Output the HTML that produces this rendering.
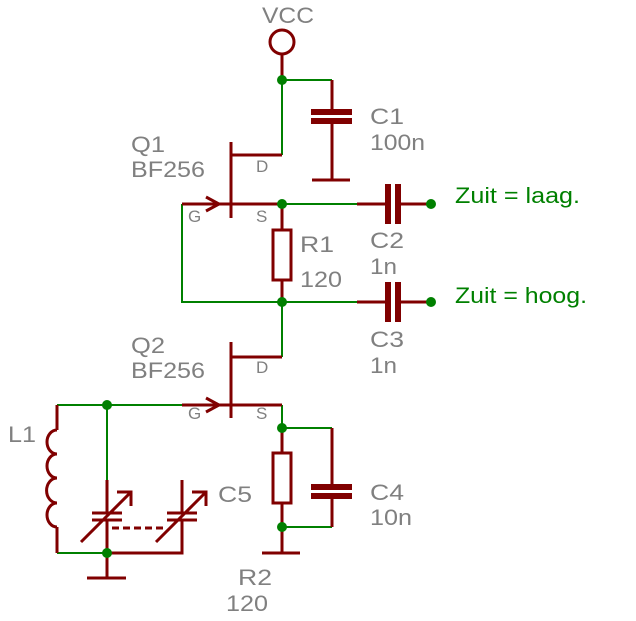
<!DOCTYPE html>
<html><head><style>html,body{margin:0;padding:0;background:#fff}svg{display:block}</style></head><body>
<svg width="636" height="621" viewBox="0 0 636 621" xmlns="http://www.w3.org/2000/svg" font-family="Liberation Sans, sans-serif">
<g stroke="#008000" stroke-width="2" fill="none">
<polyline points="282,80 332,80"/>
<polyline points="282,80 282,155"/>
<polyline points="282,204 357,204"/>
<polyline points="182,204 182,302 357,302"/>
<polyline points="282,302 282,357"/>
<polyline points="57,405 182,405"/>
<polyline points="107,405 107,480"/>
<polyline points="282,405 282,428 332,428"/>
<polyline points="282,527 332,527"/>
<polyline points="57,553 107,553"/>
</g>
<g stroke="#800000" stroke-width="3" fill="none">
<circle cx="282" cy="42" r="12"/>
<line x1="282" y1="54" x2="282" y2="80"/>
<line x1="332" y1="80" x2="332" y2="112"/>
<line x1="332" y1="121" x2="332" y2="180"/>
<line x1="312" y1="180" x2="350" y2="180"/>
<line x1="282" y1="155" x2="232" y2="155"/>
<line x1="231" y1="142" x2="231" y2="218"/>
<line x1="182" y1="204" x2="282" y2="204"/>
<polyline points="206,197 219,204 206,211"/>
<line x1="357" y1="204" x2="386" y2="204"/>
<line x1="400" y1="204" x2="431" y2="204"/>
<line x1="357" y1="302" x2="386" y2="302"/>
<line x1="400" y1="302" x2="431" y2="302"/>
<line x1="282" y1="204" x2="282" y2="230"/>
<rect x="273" y="230" width="18" height="50"/>
<line x1="282" y1="280" x2="282" y2="302"/>
<line x1="282" y1="357" x2="232" y2="357"/>
<line x1="231" y1="342" x2="231" y2="418"/>
<line x1="182" y1="405" x2="282" y2="405"/>
<polyline points="206,398 219,405 206,412"/>
<line x1="282" y1="428" x2="282" y2="453"/>
<rect x="273" y="453" width="18" height="50"/>
<line x1="282" y1="503" x2="282" y2="553"/>
<line x1="262" y1="553" x2="300" y2="553"/>
<line x1="332" y1="428" x2="332" y2="487"/>
<line x1="332" y1="496" x2="332" y2="527"/>
<line x1="57" y1="405" x2="57" y2="430"/>
<path d="M57,430 a10,12 0 0 0 0,24 a10,12 0 0 0 0,24 a10,12 0 0 0 0,25 a10,12 0 0 0 0,24"/>
<line x1="57" y1="527" x2="57" y2="553"/>
<line x1="107" y1="480" x2="107" y2="513"/>
<line x1="92" y1="513" x2="122" y2="513"/>
<line x1="92" y1="520" x2="122" y2="520"/>
<line x1="107" y1="520" x2="107" y2="578"/>
<line x1="87" y1="578" x2="126" y2="578"/>
<polyline points="107,553 182,553 182,520"/>
<line x1="182" y1="480" x2="182" y2="513"/>
<line x1="167" y1="513" x2="197" y2="513"/>
<line x1="167" y1="520" x2="197" y2="520"/>
<line x1="81" y1="542" x2="131" y2="492"/>
<polyline points="117,492 131,492 131,506"/>
<line x1="156" y1="542" x2="206" y2="492"/>
<polyline points="192,492 206,492 206,506"/>
<line x1="112" y1="528" x2="165" y2="528" stroke-dasharray="7,4"/>
</g>
<g fill="#800000">
<rect x="311" y="109" width="41" height="6"/>
<rect x="311" y="118" width="41" height="6"/>
<rect x="385" y="184" width="6" height="40"/>
<rect x="395" y="184" width="6" height="40"/>
<rect x="385" y="282" width="6" height="40"/>
<rect x="395" y="282" width="6" height="40"/>
<rect x="311" y="484" width="41" height="6"/>
<rect x="311" y="493" width="41" height="6"/>
</g>
<g fill="#008000">
<circle cx="282" cy="80" r="5"/><circle cx="282" cy="204" r="5"/><circle cx="282" cy="302" r="5"/>
<circle cx="431" cy="204" r="5"/><circle cx="431" cy="302" r="5"/>
<circle cx="107" cy="405" r="5"/><circle cx="282" cy="428" r="5"/><circle cx="282" cy="527" r="5"/>
<circle cx="107" cy="553" r="5"/>
</g>
<g fill="#808080" font-size="22">
<text x="262" y="23" textLength="52" lengthAdjust="spacingAndGlyphs">VCC</text>
<text x="370" y="124" textLength="34" lengthAdjust="spacingAndGlyphs">C1</text><text x="370" y="150" textLength="55" lengthAdjust="spacingAndGlyphs">100n</text>
<text x="131" y="152" textLength="34" lengthAdjust="spacingAndGlyphs">Q1</text><text x="131" y="177" textLength="74" lengthAdjust="spacingAndGlyphs">BF256</text>
<text x="300" y="252" textLength="34" lengthAdjust="spacingAndGlyphs">R1</text><text x="300" y="287" textLength="42" lengthAdjust="spacingAndGlyphs">120</text>
<text x="370" y="248" textLength="34" lengthAdjust="spacingAndGlyphs">C2</text><text x="370" y="274" textLength="27" lengthAdjust="spacingAndGlyphs">1n</text>
<text x="370" y="347" textLength="34" lengthAdjust="spacingAndGlyphs">C3</text><text x="370" y="373" textLength="27" lengthAdjust="spacingAndGlyphs">1n</text>
<text x="131" y="353" textLength="34" lengthAdjust="spacingAndGlyphs">Q2</text><text x="131" y="378" textLength="74" lengthAdjust="spacingAndGlyphs">BF256</text>
<text x="8" y="442" textLength="28" lengthAdjust="spacingAndGlyphs">L1</text>
<text x="218" y="502" textLength="34" lengthAdjust="spacingAndGlyphs">C5</text>
<text x="370" y="500" textLength="34" lengthAdjust="spacingAndGlyphs">C4</text><text x="370" y="525" textLength="42" lengthAdjust="spacingAndGlyphs">10n</text>
<text x="238" y="585" textLength="34" lengthAdjust="spacingAndGlyphs">R2</text><text x="226" y="611" textLength="42" lengthAdjust="spacingAndGlyphs">120</text>
</g>
<g fill="#808080" font-size="17">
<text x="256" y="172">D</text><text x="188" y="222">G</text><text x="256" y="222">S</text>
<text x="256" y="373">D</text><text x="188" y="419">G</text><text x="256" y="419">S</text>
</g>
<g fill="#008000" font-size="22">
<text x="455" y="203" textLength="125" lengthAdjust="spacingAndGlyphs">Zuit = laag.</text>
<text x="455" y="303" textLength="132" lengthAdjust="spacingAndGlyphs">Zuit = hoog.</text>
</g>
</svg>
</body></html>
